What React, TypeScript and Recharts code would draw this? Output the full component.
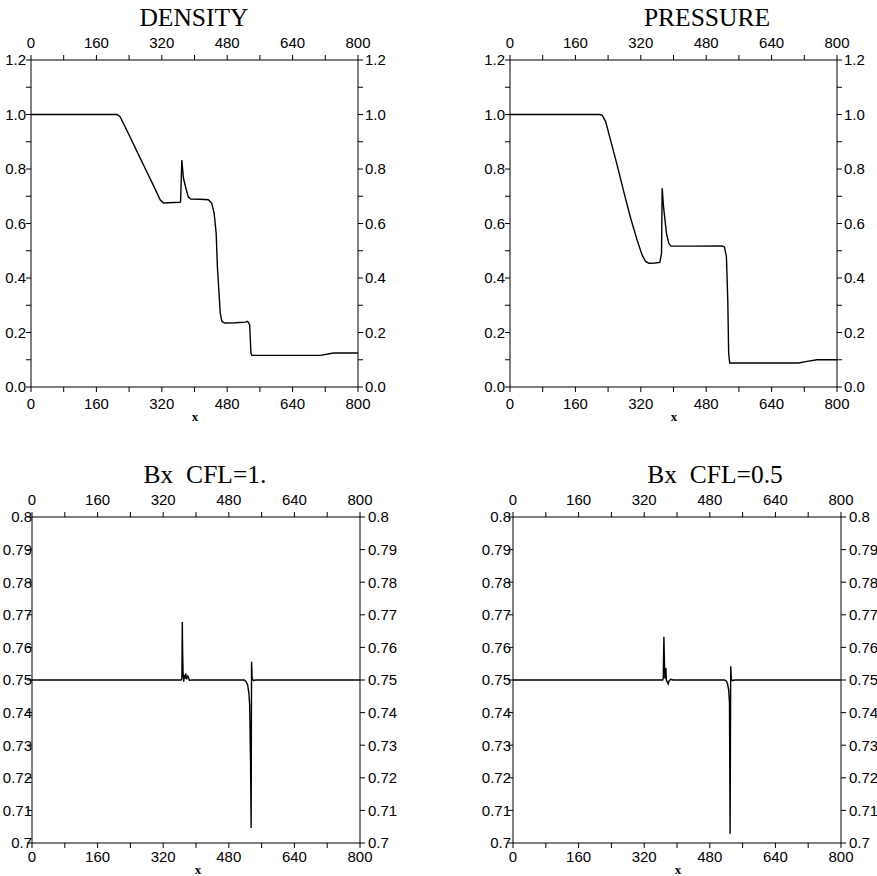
import React from 'react';
import { LineChart, Line, XAxis, YAxis } from 'recharts';

// ---------- data ----------
const densityX = [0, 200, 210, 218, 226, 240, 260, 280, 300, 316, 324, 335, 350, 365, 366, 369, 373, 380, 385, 391, 414, 434, 442, 448, 453, 456, 460, 463, 467, 473, 500, 524, 530, 535, 538, 540, 600, 660, 708, 740, 800];
const densityY = [1.0, 1.0, 1.0, 0.992, 0.968, 0.925, 0.862, 0.8, 0.738, 0.687, 0.675, 0.676, 0.677, 0.678, 0.681, 0.833, 0.766, 0.723, 0.697, 0.69, 0.689, 0.687, 0.675, 0.638, 0.565, 0.442, 0.345, 0.271, 0.241, 0.235, 0.236, 0.238, 0.241, 0.229, 0.125, 0.116, 0.116, 0.116, 0.116, 0.125, 0.125];

const pressureX = [0, 200, 220, 225.7, 233.8, 246, 262, 278.6, 295, 311, 323.4, 331.6, 339.7, 355, 366.6, 370.7, 372.3, 375.6, 382.9, 388.6, 394, 450, 519, 524.6, 529.5, 532.8, 535, 537.6, 600, 706, 726.7, 751, 800];
const pressureY = [1.0, 1.0, 1.0, 0.997, 0.975, 0.906, 0.815, 0.715, 0.62, 0.539, 0.484, 0.461, 0.454, 0.455, 0.457, 0.49, 0.729, 0.661, 0.563, 0.527, 0.517, 0.517, 0.518, 0.514, 0.478, 0.318, 0.122, 0.088, 0.088, 0.088, 0.094, 0.1, 0.1];

const bx1X = [0, 200, 364, 365.5, 366.6, 367.5, 368.5, 370, 371.5, 373, 375, 377, 380, 384, 390, 518, 522, 526, 529, 531, 533, 534.5, 535.5, 537, 540, 545, 700, 800];
const bx1Y = [0.75, 0.75, 0.75, 0.7505, 0.7678, 0.758, 0.7525, 0.7495, 0.7515, 0.7505, 0.752, 0.7502, 0.7512, 0.7499, 0.75, 0.75, 0.7495, 0.7485, 0.746, 0.742, 0.725, 0.7046, 0.7556, 0.7505, 0.7498, 0.75, 0.75, 0.75];

const bx05X = [0, 200, 365, 366.5, 368, 369.5, 370.5, 371.5, 373, 374, 376, 378.5, 381, 385, 390, 516, 520, 523, 526, 528, 529.5, 531, 532.5, 535, 540, 700, 800];
const bx05Y = [0.75, 0.75, 0.75, 0.7505, 0.7633, 0.755, 0.7505, 0.7535, 0.7535, 0.75, 0.7495, 0.7488, 0.7498, 0.7502, 0.75, 0.75, 0.7497, 0.749, 0.747, 0.743, 0.7028, 0.7542, 0.7503, 0.7498, 0.75, 0.75, 0.75];

// ---------- ticks ----------
const xTicks = [0, 80, 160, 240, 320, 400, 480, 560, 640, 720, 800];
const xTickLabels = [0, 160, 320, 480, 640, 800];
const stateTicks = [0, 0.1, 0.2, 0.3, 0.4, 0.5, 0.6, 0.7, 0.8, 0.9, 1.0, 1.1, 1.2];
const stateTickLabels = [0, 0.2, 0.4, 0.6, 0.8, 1.0, 1.2];
const bxTicks = [0.7, 0.71, 0.72, 0.73, 0.74, 0.75, 0.76, 0.77, 0.78, 0.79, 0.8];
const bxTickLabels = bxTicks;

const titles = ['DENSITY', 'PRESSURE', 'Bx  CFL=1.', 'Bx  CFL=0.5'];
const xAxisName = 'x';

const toRows = (xs: number[], ys: number[]) => xs.map((x, i) => ({ x, y: ys[i] }));

const TICK_FONT = '"Liberation Sans", Arial, Helvetica, sans-serif';
const SERIF = '"Liberation Serif", "Times New Roman", serif';

const makeTick = (orientation: string, labels: number[], fmt: (v: number) => string) => (p: any) => {
  const { x, y, payload, textAnchor } = p;
  if (!labels.includes(payload.value)) return <g />;
  let dy = '0.36em';
  if (orientation === 'top') dy = '0';
  if (orientation === 'bottom') dy = '0.72em';
  return (
    <text x={x} y={y} dy={dy} textAnchor={textAnchor} fontFamily={TICK_FONT} fontSize={15} fill="#000">
      {fmt(payload.value)}
    </text>
  );
};

const fmt1 = (v: number) => v.toFixed(1);
const fmtBx = (v: number) => String(v);

type PanelProps = {
  left: number;
  top: number;
  width: number;
  height: number;
  data: { x: number; y: number }[];
  yDomain: [number, number];
  yTicks: number[];
  yLabels: number[];
  yFmt: (v: number) => string;
  lw: number;
  rw: number;
  th: number;
  bh: number;
  lMargin: number;
  rMargin: number;
  bMargin: number;
};

const axisStyle = { stroke: '#000', strokeWidth: 1 };

function Panel(props: PanelProps) {
  const { left, top, width, height, data, yDomain, yTicks, yLabels, yFmt, lw, rw, th, bh, lMargin, rMargin, bMargin } = props;
  return (
    <div style={{ position: 'absolute', left, top, width, height }}>
      <LineChart width={width} height={height} data={data} margin={{ top: 0, right: 0, bottom: 0, left: 0 }}>
        <XAxis
          xAxisId="b"
          orientation="bottom"
          type="number"
          dataKey="x"
          domain={[0, 800]}
          ticks={xTicks}
          interval={0}
          height={bh}
          tickSize={5}
          tickMargin={bMargin}
          axisLine={axisStyle}
          tickLine={axisStyle}
          tick={makeTick('bottom', xTickLabels, String)}
          allowDataOverflow
        />
        <XAxis
          xAxisId="t"
          orientation="top"
          type="number"
          dataKey="x"
          domain={[0, 800]}
          ticks={xTicks}
          interval={0}
          height={th}
          tickSize={5}
          tickMargin={7}
          axisLine={axisStyle}
          tickLine={axisStyle}
          tick={makeTick('top', xTickLabels, String)}
          allowDataOverflow
        />
        <YAxis
          yAxisId="l"
          orientation="left"
          type="number"
          domain={yDomain}
          ticks={yTicks}
          interval={0}
          width={lw}
          tickSize={5}
          tickMargin={lMargin}
          axisLine={axisStyle}
          tickLine={axisStyle}
          tick={makeTick('left', yLabels, yFmt)}
          allowDataOverflow
        />
        <YAxis
          yAxisId="r"
          orientation="right"
          type="number"
          domain={yDomain}
          ticks={yTicks}
          interval={0}
          width={rw}
          tickSize={5}
          tickMargin={rMargin}
          axisLine={axisStyle}
          tickLine={axisStyle}
          tick={makeTick('right', yLabels, yFmt)}
          allowDataOverflow
        />
        <Line
          xAxisId="b"
          yAxisId="l"
          type="linear"
          dataKey="y"
          stroke="#000"
          strokeWidth={1.4}
          dot={false}
          activeDot={false}
          isAnimationActive={false}
        />
      </LineChart>
    </div>
  );
}

export default function App() {
  return (
    <div style={{ position: 'absolute', left: 0, top: 0, width: 877, height: 876, background: '#fff', overflow: 'hidden' }}>
      <Panel left={0} top={0} width={437} height={440} data={toRows(densityX, densityY)} yDomain={[0, 1.2]}
        yTicks={stateTicks} yLabels={stateTickLabels} yFmt={fmt1} lw={31} rw={79} th={60} bh={53} lMargin={0} rMargin={2} bMargin={6} />
      <Panel left={437} top={0} width={440} height={440} data={toRows(pressureX, pressureY)} yDomain={[0, 1.2]}
        yTicks={stateTicks} yLabels={stateTickLabels} yFmt={fmt1} lw={73} rw={40} th={60} bh={53} lMargin={0} rMargin={2} bMargin={6} />
      <Panel left={0} top={440} width={437} height={436} data={toRows(bx1X, bx1Y)} yDomain={[0.7, 0.8]}
        yTicks={bxTicks} yLabels={bxTickLabels} yFmt={fmtBx} lw={32} rw={77} th={77} bh={33} lMargin={-5} rMargin={3} bMargin={3} />
      <Panel left={437} top={440} width={440} height={436} data={toRows(bx05X, bx05Y)} yDomain={[0.7, 0.8]}
        yTicks={bxTicks} yLabels={bxTickLabels} yFmt={fmtBx} lw={76} rw={36} th={77} bh={33} lMargin={-3} rMargin={3} bMargin={3} />
      <svg width={877} height={876} style={{ position: 'absolute', left: 0, top: 0, pointerEvents: 'none' }}>
        <text x={194} y={26} textAnchor="middle" fontFamily={SERIF} fontSize={25.5} fill="#000">{titles[0]}</text>
        <text x={707} y={25.5} textAnchor="middle" fontFamily={SERIF} fontSize={25.5} fill="#000">{titles[1]}</text>
        <text x={205} y={483} textAnchor="middle" fontFamily={SERIF} fontSize={25.5} fill="#000" style={{ whiteSpace: 'pre' }} xmlSpace="preserve">{titles[2]}</text>
        <text x={715} y={482.5} textAnchor="middle" fontFamily={SERIF} fontSize={25.5} fill="#000" style={{ whiteSpace: 'pre' }} xmlSpace="preserve">{titles[3]}</text>
        <text x={195} y={421} textAnchor="middle" fontFamily={SERIF} fontWeight="bold" fontSize={13} fill="#000">{xAxisName}</text>
        <text x={674} y={421} textAnchor="middle" fontFamily={SERIF} fontWeight="bold" fontSize={13} fill="#000">{xAxisName}</text>
        <text x={198} y={874} textAnchor="middle" fontFamily={SERIF} fontWeight="bold" fontSize={13} fill="#000">{xAxisName}</text>
        <text x={678} y={874} textAnchor="middle" fontFamily={SERIF} fontWeight="bold" fontSize={13} fill="#000">{xAxisName}</text>
      </svg>
    </div>
  );
}
